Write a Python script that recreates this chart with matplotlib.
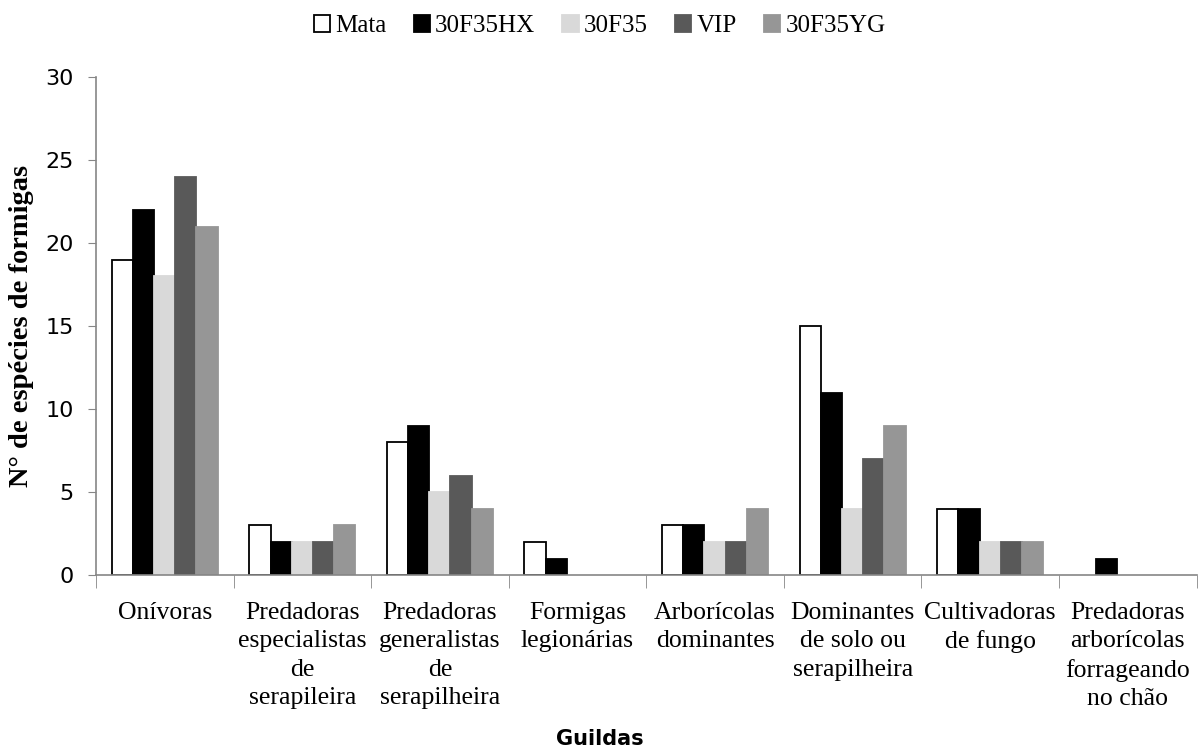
import numpy as np
import matplotlib
matplotlib.use('Agg')
import matplotlib.pyplot as plt

categorias = ['Onívoras',
              'Predadoras\nespecialistas\nde\nserapileira',
              'Predadoras\ngeneralistas\nde\nserapilheira',
              'Formigas\nlegionárias',
              'Arborícolas\ndominantes',
              'Dominantes\nde solo ou\nserapilheira',
              'Cultivadoras\nde fungo',
              'Predadoras\narborícolas\nforrageando\nno chão']
series = ['Mata', '30F35HX', '30F35', 'VIP', '30F35YG']
mata = [19, 3, 8, 2, 3, 15, 4, 0]
hx = [22, 2, 9, 1, 3, 11, 4, 1]
f35 = [18, 2, 5, 0, 2, 4, 2, 0]
vip = [24, 2, 6, 0, 2, 7, 2, 0]
yg = [21, 3, 4, 0, 4, 9, 2, 0]
valores = [mata, hx, f35, vip, yg]

cores = ['white', 'black', '#d9d9d9', '#595959', '#969696']
bordas = ['black', 'black', '#d9d9d9', '#595959', '#969696']

fig = plt.figure(figsize=(11.99, 7.49), dpi=100)
ax = fig.add_axes([0.080, 0.232, 0.918, 0.665])

x = np.arange(len(categorias))
w = 0.154
for i, vals in enumerate(valores):
    v = np.array(vals, dtype=float)
    v[v == 0] = np.nan  # zero bars are not drawn
    ax.bar(x + (i - 2) * w, v, w, color=cores[i], edgecolor=bordas[i],
           linewidth=1.3, label=series[i])

ax.set_xlim(-0.5, len(categorias) - 0.5)
ax.set_ylim(0, 30)
ax.set_yticks(range(0, 31, 5))
ax.tick_params(axis='y', labelsize=16, length=6, color='#868686', pad=10)

ax.set_xticks(x)
ax.set_xticklabels(categorias, family='Liberation Serif', fontsize=18.5,
                   linespacing=1.38)
ax.tick_params(axis='x', length=0, pad=19)
ax.set_xticks(np.arange(-0.5, len(categorias)), minor=True)
ax.tick_params(axis='x', which='minor', length=9, color='#868686', direction='out')

for s in ['top', 'right']:
    ax.spines[s].set_visible(False)
for s in ['left', 'bottom']:
    ax.spines[s].set_color('#868686')
    ax.spines[s].set_linewidth(1.2)

ax.set_ylabel('N° de espécies de formigas', family='Liberation Serif',
              fontsize=20.5, fontweight='bold', labelpad=8)
fig.text(0.5, 0.0, 'Guildas', ha='center', va='bottom', fontsize=15,
         fontweight='bold', family='DejaVu Sans')

leg = fig.legend(loc='upper center', bbox_to_anchor=(0.5, 1.01), ncol=5,
                 frameon=False, prop={'family': 'Liberation Serif', 'size': 18},
                 handlelength=0.65, handleheight=0.65, handletextpad=0.2,
                 columnspacing=1.1)

plt.savefig('out.png', dpi=100)
